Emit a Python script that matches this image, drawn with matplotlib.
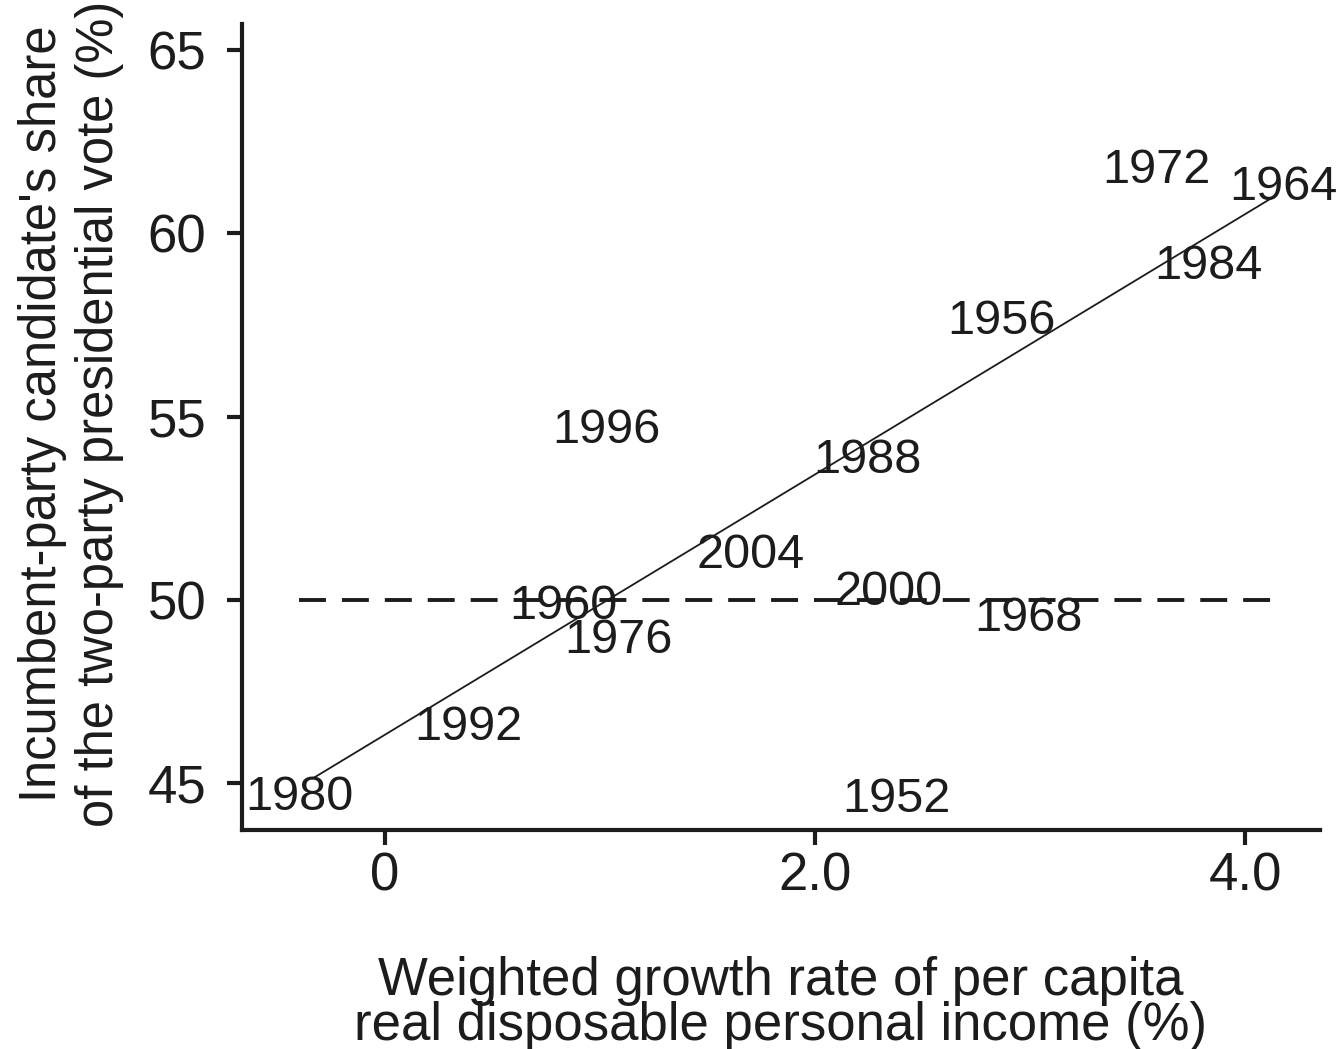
import matplotlib
matplotlib.use("Agg")
import matplotlib.pyplot as plt
import numpy as np

plt.rcParams['font.family'] = ['Liberation Sans', 'DejaVu Sans']
plt.rcParams['lines.scale_dashes'] = False

# ---- data ----
years = ["1980", "1992", "1960", "1976", "2004", "1996", "1988", "2000",
         "1968", "1952", "1956", "1984", "1972", "1964"]
growth = [-0.40, 0.386, 0.83, 1.088, 1.70, 1.028, 2.242, 2.34,
          2.995, 2.381, 2.865, 3.83, 3.586, 4.177]
vote = [44.73, 46.64, 49.95, 49.04, 51.34, 54.75, 53.93, 50.33,
        49.62, 44.70, 57.73, 59.23, 61.86, 61.38]

fit_intercept = 46.32
fit_slope = 3.55
fit_x = [-0.33, 4.12]
parity = 50.0

xticks = [0, 2, 4]
xticklabels = ["0", "2.0", "4.0"]
yticks = [45, 50, 55, 60, 65]
yticklabels = ["45", "50", "55", "60", "65"]

ink = '#1c1c1c'

fig = plt.figure(figsize=(13.39, 10.49), dpi=100)
ax = fig.add_axes([242/1339, 1-830/1049, (1320-242)/1339, (830-24)/1049])

ax.set_xlim(-0.665, 4.349)
ax.set_ylim(43.72, 65.71)

# 50% reference line (spans the range of the data)
ax.plot([min(growth), max(growth)], [parity, parity], color=ink, lw=2.8,
        dashes=(19.4, 11.5), solid_capstyle='butt', dash_capstyle='butt')

# regression line
fx = np.array(fit_x)
ax.plot(fx, fit_intercept + fit_slope * fx, color=ink, lw=1.3)

# year labels
for yr, gx, vy in zip(years, growth, vote):
    ax.text(gx, vy, yr, ha='center', va='center_baseline', fontsize=35, color=ink)

for s in ['top', 'right']:
    ax.spines[s].set_visible(False)
for s in ['left', 'bottom']:
    ax.spines[s].set_linewidth(3.0)
    ax.spines[s].set_color(ink)

ax.set_xticks(xticks)
ax.set_xticklabels(xticklabels)
ax.set_yticks(yticks)
ax.set_yticklabels(yticklabels)
ax.tick_params(axis='both', length=10.8, width=3.0, color=ink, labelcolor=ink,
               labelsize=38)
ax.tick_params(axis='x', pad=5)
ax.tick_params(axis='y', pad=15)

ax.set_xlabel("Weighted growth rate of per capita\nreal disposable personal income (%)",
              fontsize=38, color=ink, linespacing=0.86)
ax.xaxis.set_label_coords(0.5, -(956-830)/806)

ax.set_ylabel("Incumbent-party candidate's share\nof the two-party presidential vote (%)",
              fontsize=36.5, color=ink, linespacing=1.22)
ax.yaxis.set_label_coords((124-242)/1078, (830-414)/806)

fig.savefig("out.png", dpi=100)
